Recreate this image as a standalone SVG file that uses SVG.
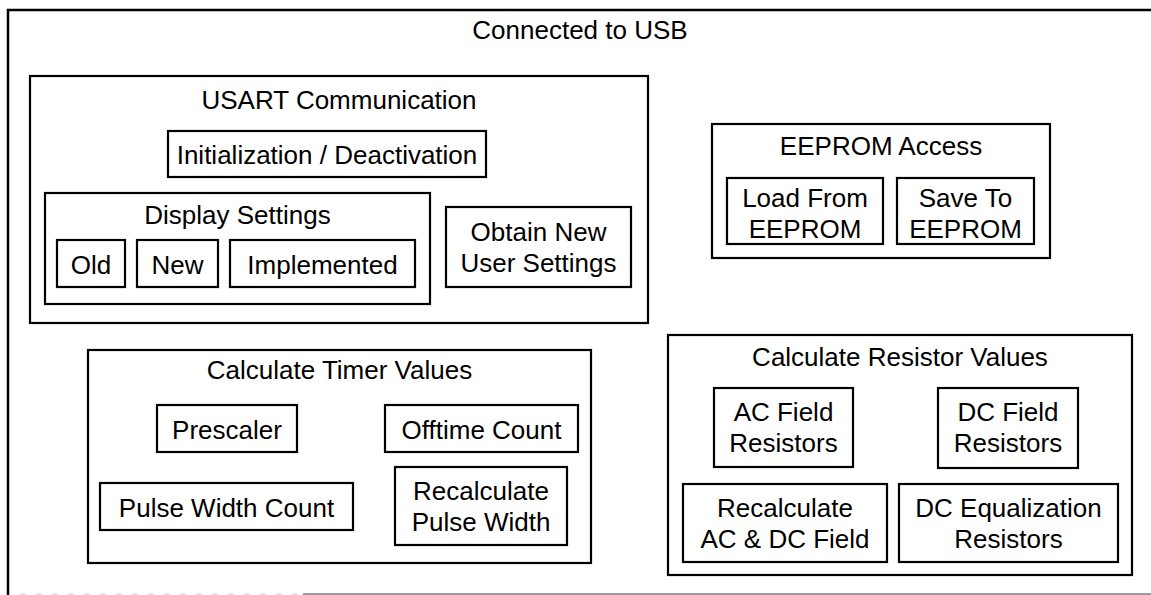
<svg xmlns="http://www.w3.org/2000/svg" width="1151" height="595" viewBox="0 0 1151 595">
<style>
.b{fill:none;stroke:#000;stroke-width:2.2}
.t{font-family:"Liberation Sans",Arial,sans-serif;font-size:26px;fill:#000;text-anchor:middle}
</style>
<rect width="1151" height="595" fill="#fff"/>
<g id="outer">
<path d="M1151,10 H8 V595" fill="none" stroke="#000" stroke-width="2.5"/>
<line x1="303" y1="594" x2="1151" y2="594" stroke="#777" stroke-width="1.5"/>
<line x1="20" y1="594" x2="303" y2="594" stroke="#ccc" stroke-width="1" stroke-dasharray="6 10"/>
<text class="t" x="580" y="39">Connected to USB</text>
</g>
<g id="usart">
<rect class="b" x="30" y="76" width="618" height="247"/>
<text class="t" x="339" y="109">USART Communication</text>
</g>
<g id="init">
<rect class="b" x="168" y="131" width="318" height="46"/>
<text class="t" x="327" y="164">Initialization / Deactivation</text>
</g>
<g id="display">
<rect class="b" x="45" y="193" width="385" height="111"/>
<text class="t" x="237.5" y="224">Display Settings</text>
</g>
<g id="old">
<rect class="b" x="57" y="240" width="68" height="47"/>
<text class="t" x="91" y="274">Old</text>
</g>
<g id="new">
<rect class="b" x="137" y="240" width="81" height="47"/>
<text class="t" x="177.5" y="274">New</text>
</g>
<g id="implemented">
<rect class="b" x="230" y="240" width="185" height="47"/>
<text class="t" x="322.5" y="274">Implemented</text>
</g>
<g id="obtain">
<rect class="b" x="446" y="207" width="185" height="80"/>
<text class="t" x="538.5" y="241">Obtain New</text>
<text class="t" x="538.5" y="272">User Settings</text>
</g>
<g id="eeprom">
<rect class="b" x="712" y="124" width="338" height="134"/>
<text class="t" x="881" y="155">EEPROM Access</text>
</g>
<g id="load">
<rect class="b" x="727" y="178" width="156" height="66"/>
<text class="t" x="805" y="207">Load From</text>
<text class="t" x="805" y="238">EEPROM</text>
</g>
<g id="save">
<rect class="b" x="897" y="178" width="137" height="66"/>
<text class="t" x="965.5" y="207">Save To</text>
<text class="t" x="965.5" y="238">EEPROM</text>
</g>
<g id="timer">
<rect class="b" x="88" y="350" width="503" height="213"/>
<text class="t" x="339.5" y="379">Calculate Timer Values</text>
</g>
<g id="prescaler">
<rect class="b" x="157" y="405" width="140" height="47"/>
<text class="t" x="227" y="439">Prescaler</text>
</g>
<g id="offtime">
<rect class="b" x="385" y="405" width="193" height="47"/>
<text class="t" x="481.5" y="439">Offtime Count</text>
</g>
<g id="pulse">
<rect class="b" x="100" y="483" width="253" height="47"/>
<text class="t" x="226.5" y="517">Pulse Width Count</text>
</g>
<g id="recalcpulse">
<rect class="b" x="395" y="467" width="172" height="78"/>
<text class="t" x="481" y="500">Recalculate</text>
<text class="t" x="481" y="531">Pulse Width</text>
</g>
<g id="resistor">
<rect class="b" x="668" y="335" width="464" height="240"/>
<text class="t" x="900" y="366">Calculate Resistor Values</text>
</g>
<g id="acfield">
<rect class="b" x="714" y="388" width="139" height="79"/>
<text class="t" x="783.5" y="421">AC Field</text>
<text class="t" x="783.5" y="452">Resistors</text>
</g>
<g id="dcfield">
<rect class="b" x="938" y="388" width="140" height="80"/>
<text class="t" x="1008" y="421">DC Field</text>
<text class="t" x="1008" y="452">Resistors</text>
</g>
<g id="recalcacdc">
<rect class="b" x="683" y="484" width="204" height="78"/>
<text class="t" x="785" y="517">Recalculate</text>
<text class="t" x="785" y="548">AC &amp; DC Field</text>
</g>
<g id="dceq">
<rect class="b" x="899" y="484" width="219" height="78"/>
<text class="t" x="1008.5" y="517">DC Equalization</text>
<text class="t" x="1008.5" y="548">Resistors</text>
</g>
<g id="connectors"></g>
</svg>
